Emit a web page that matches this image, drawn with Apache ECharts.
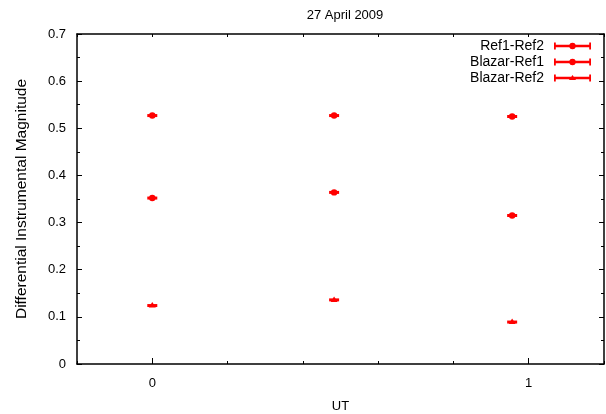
<!DOCTYPE html>
<html>
<head>
<meta charset="utf-8">
<script src="https://cdn.jsdelivr.net/npm/echarts@6/dist/echarts.min.js"></script>
<style>html,body{margin:0;padding:0;background:#fff;}#c{width:606px;height:414px;}</style>
</head>
<body>
<div id="c"></div>
<script>
var ut = [0, 0.483, 0.956];
var ref1Ref2 = [0.527, 0.527, 0.525];
var blazarRef1 = [0.352, 0.364, 0.315];
var blazarRef2 = [0.124, 0.136, 0.089];
var seriesNames = ['Ref1-Ref2', 'Blazar-Ref1', 'Blazar-Ref2'];
var xTickLabels = [0, 1];

var FONT = '"Liberation Sans", Arial, sans-serif';
var RED = '#ff0000';

function pairs(vals) { return ut.map(function (x, i) { return [x, vals[i]]; }); }

function makeRender(shape) {
  return function (params, api) {
    var p = api.coord([api.value(0), api.value(1)]);
    var children = [
      { type: 'rect', shape: { x: p[0] - 5, y: p[1] - 1.5, width: 10, height: 3 }, style: { fill: RED } }
    ];
    if (shape === 'triangle') {
      children.push({ type: 'polygon', shape: { points: [[p[0] - 3.5, p[1] + 2], [p[0], p[1] - 3.5], [p[0] + 3.5, p[1] + 2]] }, style: { fill: RED } });
    } else {
      children.push({ type: 'circle', shape: { cx: p[0], cy: p[1], r: 3.2 }, style: { fill: RED } });
    }
    return { type: 'group', children: children };
  };
}

var circleIcon = 'path://M0,1h1.8v7h-1.8z M0,3.3h37v2.4h-37z M35.2,1h1.8v7h-1.8z M15.3,4.5a3.2,3.2 0 1,1 6.4,0a3.2,3.2 0 1,1 -6.4,0z';
var triIcon = 'path://M0,1h1.8v7h-1.8z M0,3.3h37v2.4h-37z M35.2,1h1.8v7h-1.8z M15,6.5L18.5,1.5L22,6.5z';

var axisLineStyle = { color: '#000', width: 1.5 };

var option = {
  animation: false,
  backgroundColor: '#fff',
  title: {
    text: '27 April 2009',
    left: 340, top: 4, textAlign: 'center',
    textStyle: { fontFamily: FONT, fontSize: 13, fontWeight: 'normal', color: '#000' }
  },
  legend: {
    right: 10, top: 34, orient: 'vertical', align: 'right',
    itemWidth: 37, itemHeight: 9, itemGap: 2,
    textStyle: { fontFamily: FONT, fontSize: 14, color: '#000', padding: [0, 5, 0, 0] },
    data: [
      { name: seriesNames[0], icon: circleIcon },
      { name: seriesNames[1], icon: circleIcon },
      { name: seriesNames[2], icon: triIcon }
    ]
  },
  grid: { left: 77, right: 2, top: 34, bottom: 50, outerBoundsMode: 'none', containLabel: false },
  xAxis: [
    {
      type: 'value', min: -0.2, max: 1.2, interval: 0.2, position: 'bottom',
      name: 'UT', nameLocation: 'middle', nameGap: 36,
      nameTextStyle: { fontFamily: FONT, fontSize: 13, color: '#000' },
      axisLine: { show: true, onZero: false, lineStyle: axisLineStyle },
      axisTick: { show: true, inside: true, length: 3, lineStyle: { color: '#000' } },
      axisLabel: {
        fontFamily: FONT, fontSize: 13, color: '#000', margin: 13,
        formatter: function (v) {
          for (var i = 0; i < xTickLabels.length; i++) if (Math.abs(v - xTickLabels[i]) < 1e-9) return String(xTickLabels[i]);
          return '';
        }
      },
      splitLine: { show: false }
    },
    {
      type: 'value', min: -0.2, max: 1.2, interval: 0.2, position: 'bottom',
      axisLine: { show: false, onZero: false },
      axisTick: { show: true, inside: true, length: 6, customValues: xTickLabels, lineStyle: { color: '#000' } },
      axisLabel: { show: false },
      splitLine: { show: false }
    },
    {
      type: 'value', min: -0.2, max: 1.2, interval: 0.2, position: 'top',
      axisLine: { show: true, onZero: false, lineStyle: axisLineStyle },
      axisTick: { show: true, inside: true, length: 3, lineStyle: { color: '#000' } },
      axisLabel: { show: false },
      splitLine: { show: false }
    }
  ],
  yAxis: [
    {
      type: 'value', min: 0, max: 0.7, interval: 0.1, position: 'left',
      name: 'Differential Instrumental Magnitude', nameLocation: 'middle', nameGap: 47,
      nameTextStyle: { fontFamily: FONT, fontSize: 15.5, color: '#000' },
      axisLine: { show: true, onZero: false, lineStyle: axisLineStyle },
      axisTick: { show: true, inside: true, length: 5, lineStyle: { color: '#000' } },
      minorTick: { show: true, splitNumber: 2, length: 3, lineStyle: { color: '#000' } },
      axisLabel: {
        fontFamily: FONT, fontSize: 13, color: '#000', margin: 11,
        formatter: function (v) { return v === 0 ? '0' : v.toFixed(1); }
      },
      splitLine: { show: false }
    },
    {
      type: 'value', min: 0, max: 0.7, interval: 0.1, position: 'right',
      axisLine: { show: true, onZero: false, lineStyle: axisLineStyle },
      axisTick: { show: true, inside: true, length: 5, lineStyle: { color: '#000' } },
      minorTick: { show: true, splitNumber: 2, length: 3, lineStyle: { color: '#000' } },
      axisLabel: { show: false },
      splitLine: { show: false }
    }
  ],
  series: [
    { name: seriesNames[0], type: 'custom', xAxisIndex: 0, yAxisIndex: 0, itemStyle: { color: RED }, renderItem: makeRender('circle'), data: pairs(ref1Ref2) },
    { name: seriesNames[1], type: 'custom', xAxisIndex: 0, yAxisIndex: 0, itemStyle: { color: RED }, renderItem: makeRender('circle'), data: pairs(blazarRef1) },
    { name: seriesNames[2], type: 'custom', xAxisIndex: 0, yAxisIndex: 0, itemStyle: { color: RED }, renderItem: makeRender('triangle'), data: pairs(blazarRef2) }
  ]
};

var chart = echarts.init(document.getElementById('c'), null, { renderer: 'canvas' });
chart.setOption(option);
</script>
</body>
</html>
